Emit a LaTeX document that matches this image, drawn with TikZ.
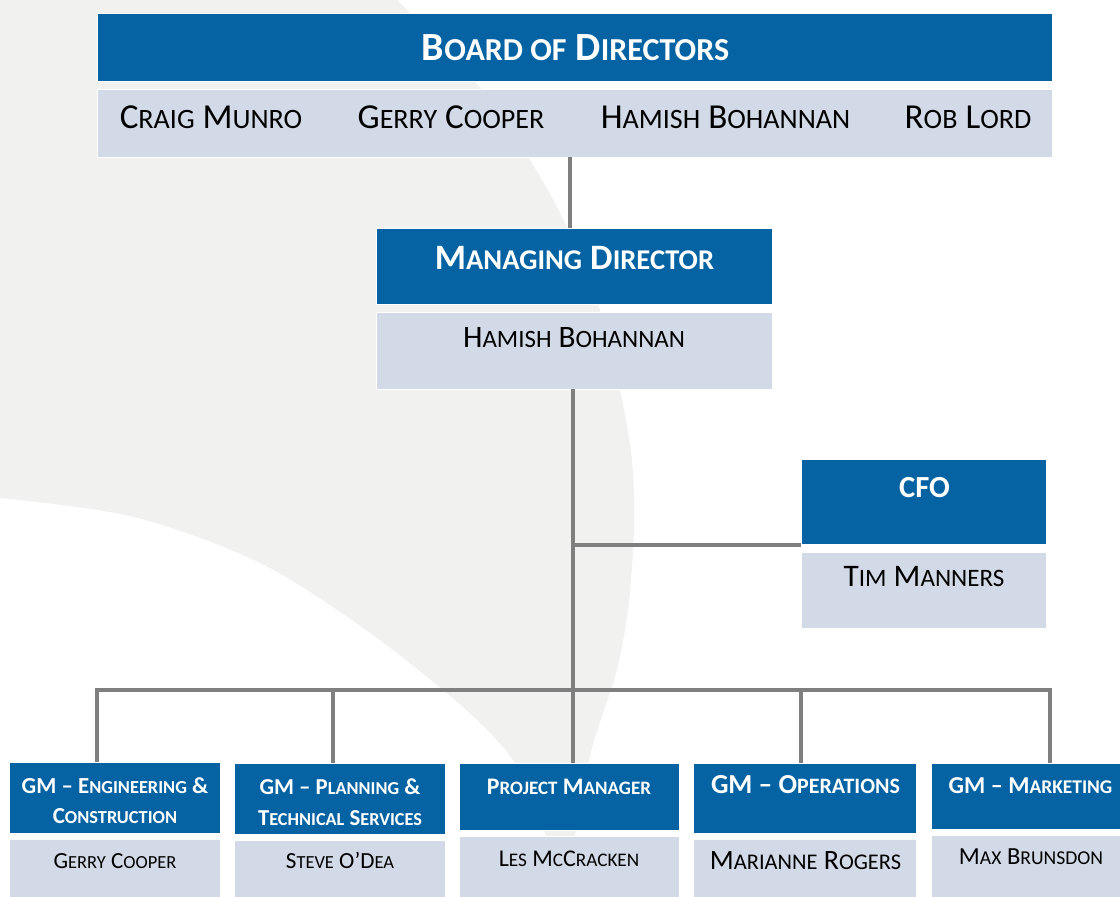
\documentclass[tikz,border=0pt]{standalone}
\usepackage{fontspec}
\setmainfont{Carlito}
\usepackage{graphicx}
\usetikzlibrary{calc}
\definecolor{hdrblue}{HTML}{0563A3}
\definecolor{namebg}{HTML}{D2D9E7}
\definecolor{linegray}{HTML}{7F7F7F}
\definecolor{bggray}{HTML}{F1F1EF}
\newcommand\smc[1]{\scalebox{0.8}{#1}}
\newcommand\fsz[1]{\fontsize{#1}{#1}\selectfont}
\tikzset{
  wh/.style 2 args={minimum width=#1*0.75pt, minimum height=#2*0.75pt},
  hdrbox/.style={fill=hdrblue, draw=white, line width=0.6pt, inner sep=0, anchor=north west},
  namebox/.style={fill=namebg, draw=white, line width=0.6pt, inner sep=0, anchor=north west},
  htxt/.style={text=white, font=\bfseries, inner sep=0, anchor=base},
  ntxt/.style={text=black, inner sep=0, anchor=base},
  conn/.style={draw=linegray, line width=3.6pt},
}
\begin{document}
\begin{tikzpicture}[x=0.75pt,y=-0.75pt]
\useasboundingbox (0,0) rectangle (1120,896);
\clip (0,0) rectangle (1120,896);
% background shape
\fill[bggray] (0,0)
  -- plot[smooth] coordinates {(397,0) (470,75) (530,160) (567,227) (600,310) (620,390) (632,460) (634,530) (628,610) (616,673) (589,760) (565,896)}
  -- plot[smooth] coordinates {(565,896) (513,760) (402,657) (268,567) (134,517) (0,498)}
  -- cycle;

% Board
\node[hdrbox, wh={955}{68}] (bdh) at (97,13) {};
\node[namebox, wh={955}{68}] (bdn) at (97,89) {};
\node[htxt] (bdht) at (575.5,60) {\fsz{30}B\smc{OARD OF} D\smc{IRECTORS}};
\node[ntxt] (bdn1) at (211,128) {\fsz{26.3}C\smc{RAIG} M\smc{UNRO}};
\node[ntxt] (bdn2) at (451,128) {\fsz{26.3}G\smc{ERRY} C\smc{OOPER}};
\node[ntxt] (bdn3) at (725.5,128) {\fsz{26.3}H\smc{AMISH} B\smc{OHANNAN}};
\node[ntxt] (bdn4) at (968,128) {\fsz{26.3}R\smc{OB} L\smc{ORD}};

% Managing director
\node[hdrbox, wh={396}{76}] (mdh) at (376,228) {};
\node[namebox, wh={396}{77}] (mdn) at (376,312) {};
\node[htxt] (mdht) at (574.5,269) {\fsz{26.8}M\smc{ANAGING} D\smc{IRECTOR}};
\node[ntxt] (mdnt) at (574,347) {\fsz{23.4}H\smc{AMISH} B\smc{OHANNAN}};

% CFO
\node[hdrbox, wh={245}{85}] (cfoh) at (801,459) {};
\node[namebox, wh={245}{76}] (cfon) at (801,552) {};
\node[htxt] (cfoht) at (924.5,497) {\fsz{23}CFO};
\node[ntxt] (cfont) at (924,586) {\fsz{23.5}T\smc{IM} M\smc{ANNERS}};

% Bottom row
\node[hdrbox, wh={211}{71}] (engh) at (9,762) {};
\node[namebox, wh={211}{70}] (engn) at (9,839) {};
\node[htxt] (engt1) at (115,793) {\fsz{17.2}GM – E\smc{NGINEERING} \&};
\node[htxt] (engt2) at (115,823) {\fsz{17.2}C\smc{ONSTRUCTION}};
\node[ntxt] (engnt) at (115,868) {\fsz{17.3}G\smc{ERRY} C\smc{OOPER}};

\node[hdrbox, wh={211}{71}] (plnh) at (234,763) {};
\node[namebox, wh={211}{70}] (plnn) at (234,840) {};
\node[htxt] (plnt1) at (340,794) {\fsz{17.1}GM – P\smc{LANNING} \&};
\node[htxt] (plnt2) at (340,825) {\fsz{17.1}T\smc{ECHNICAL} S\smc{ERVICES}};
\node[ntxt] (plnnt) at (340,868) {\fsz{17.3}S\smc{TEVE} O’D\smc{EA}};

\node[hdrbox, wh={220}{67}] (pmh) at (459,763) {};
\node[namebox, wh={220}{70}] (pmn) at (459,836) {};
\node[htxt] (pmt) at (569,794) {\fsz{17.8}P\smc{ROJECT} M\smc{ANAGER}};
\node[ntxt] (pmnt) at (569,866) {\fsz{18}L\smc{ES} M\smc{C}C\smc{RACKEN}};

\node[hdrbox, wh={223}{70}] (opsh) at (693,763) {};
\node[namebox, wh={223}{70}] (opsn) at (693,839) {};
\node[htxt] (opst) at (805.5,793) {\fsz{20.6}GM – O\smc{PERATIONS}};
\node[ntxt] (opsnt) at (805.5,869) {\fsz{21}M\smc{ARIANNE} R\smc{OGERS}};

\node[hdrbox, wh={200}{66}] (mkth) at (931,763) {};
\node[namebox, wh={200}{70}] (mktn) at (931,835) {};
\node[htxt] (mktt) at (1030.5,793) {\fsz{18.2}GM – M\smc{ARKETING}};
\node[ntxt] (mktnt) at (1031,864) {\fsz{18.4}M\smc{AX} B\smc{RUNSDON}};

% connectors
\coordinate (top1) at (570,157);
\draw[conn] (top1) -- (top1 |- mdh.north);
\coordinate (spine) at (573,389);
\coordinate (cfoj) at (573,545);
\coordinate (b1) at (97,690);
\coordinate (b2) at (333,690);
\coordinate (b3) at (574,690);
\coordinate (b4) at (801,690);
\coordinate (b5) at (1050,690);
\draw[conn] (spine) -- (spine |- pmh.north);
\draw[conn] (cfoj) -- (cfoj -| cfoh.west);
\draw[conn, line join=miter] (b1 |- engh.north) -- (b1) -- (b5) -- (b5 |- mkth.north);
\draw[conn] (b2) -- (b2 |- plnh.north);
\draw[conn] (b4) -- (b4 |- opsh.north);
\end{tikzpicture}
\end{document}
